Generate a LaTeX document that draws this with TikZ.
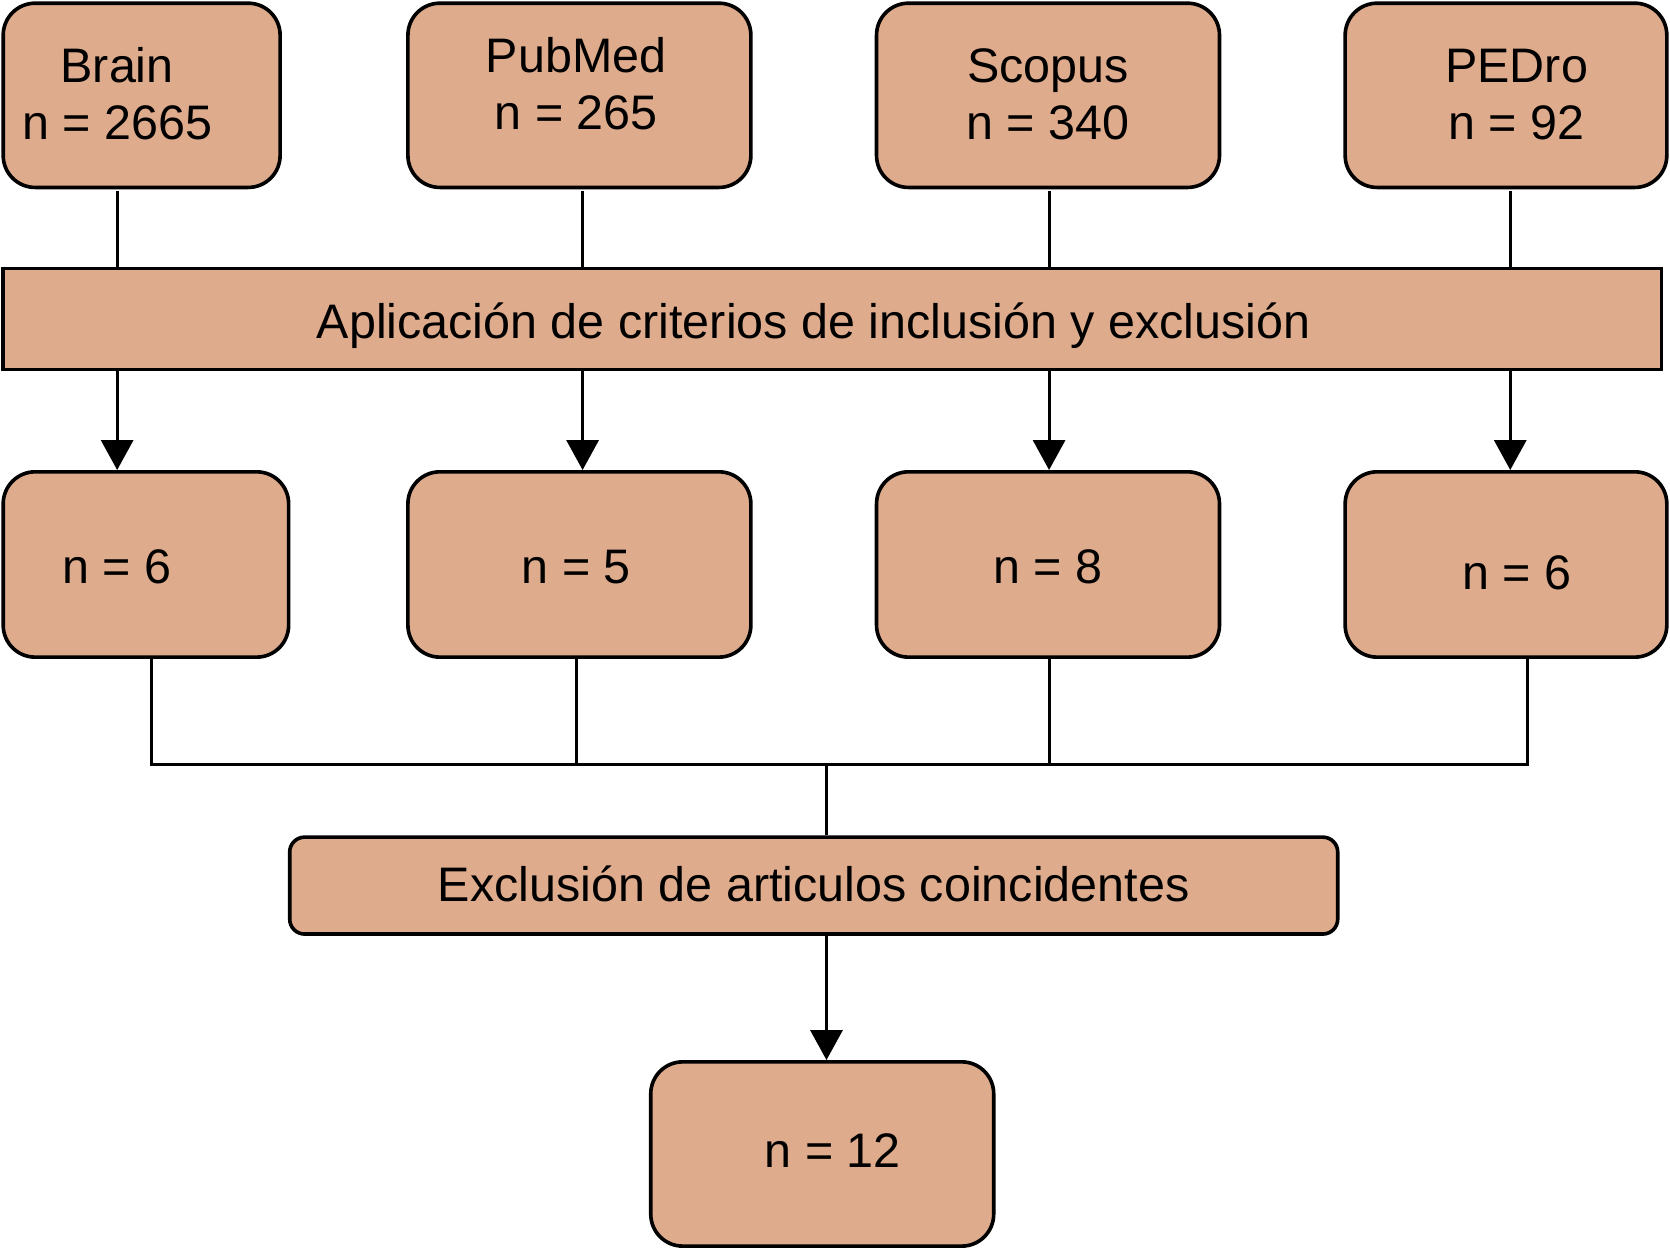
\documentclass[tikz,border=0pt]{standalone}
\usepackage{fontspec}
\setmainfont{Liberation Sans}
\usetikzlibrary{arrows.meta}
\definecolor{boxfill}{RGB}{222,171,141}
\begin{document}
\begin{tikzpicture}[x=1pt,y=-1pt,
  rbox/.style={draw=black,line width=3.4pt,fill=boxfill,rounded corners=30pt,inner sep=0pt},
  sbox/.style={draw=black,line width=3.4pt,fill=boxfill,inner sep=0pt},
  lbl/.style={anchor=base,inner sep=0pt,font=\fontsize{45.5}{54}\selectfont},
  conn/.style={line width=2.7pt},
  arr/.style={line width=2.7pt,-{Triangle[width=30pt,length=28pt]}}]
\useasboundingbox (0,0) rectangle (1568,1174);
% top boxes
\node[rbox,minimum width=260pt,minimum height=173pt] (top1) at (133,89.5) {};
\node[rbox,minimum width=322pt,minimum height=173pt] (top2) at (544,89.5) {};
\node[rbox,minimum width=322pt,minimum height=173pt] (top3) at (984,89.5) {};
\node[rbox,minimum width=302pt,minimum height=173pt] (top4) at (1414,89.5) {};
\node[lbl] (t1a) at (110,77) {Brain};
\node[lbl] (t1b) at (110,131) {n = 2665};
\node[lbl] (t2a) at (541,68) {PubMed};
\node[lbl] (t2b) at (541,122) {n = 265};
\node[lbl] (t3a) at (984,77) {Scopus};
\node[lbl] (t3b) at (984,131) {n = 340};
\node[lbl] (t4a) at (1424,77) {PEDro};
\node[lbl] (t4b) at (1424,131) {n = 92};
% bar
\node[sbox,minimum width=1557pt,minimum height=95pt] (bar) at (781.5,299.5) {};
\node[lbl] (tbar) at (764,318) {Aplicación de criterios de inclusión y exclusión};
% middle boxes
\node[rbox,minimum width=268pt,minimum height=174pt] (mid1) at (137,530) {};
\node[rbox,minimum width=322pt,minimum height=174pt] (mid2) at (544,530) {};
\node[rbox,minimum width=322pt,minimum height=174pt] (mid3) at (984,530) {};
\node[rbox,minimum width=302pt,minimum height=174pt] (mid4) at (1414,530) {};
\node[lbl] (m1) at (110,547.5) {n = 6};
\node[lbl] (m2) at (541,547.5) {n = 5};
\node[lbl] (m3) at (984,547.5) {n = 8};
\node[lbl] (m4) at (1424,553.5) {n = 6};
% exclusion box
\node[rbox,rounded corners=14pt,minimum width=984pt,minimum height=91pt] (excl) at (764,831.5) {};
\node[lbl] (texcl) at (764,846) {Exclusión de articulos coincidentes};
% final box
\node[rbox,minimum width=322pt,minimum height=173pt] (final) at (772,1083.5) {};
\node[lbl] (tfinal) at (782,1096) {n = 12};
% coordinates for connector columns
\coordinate (c1) at (110,0);
\coordinate (c2) at (547,0);
\coordinate (c3) at (985,0);
\coordinate (c4) at (1418,0);
\coordinate (d1) at (142,718);
\coordinate (d2) at (541,718);
\coordinate (d3) at (985,718);
\coordinate (d4) at (1434,718);
\coordinate (jm) at (776,718);
% top connectors
\foreach \i in {1,2,3,4}{
  \draw[conn,shorten <=2pt] (c\i |- top\i.south) -- (c\i |- bar.north);
  \draw[arr] (c\i |- bar.south) -- (c\i |- mid\i.north);
}
% merge
\draw[conn] (d1 |- mid1.south) -- (d1) -- (d4) -- (d4 |- mid4.south);
\draw[conn] (d2 |- mid2.south) -- (d2);
\draw[conn] (d3 |- mid3.south) -- (d3);
\draw[conn] (jm) -- (jm |- excl.north);
\draw[arr] (jm |- excl.south) -- (jm |- final.north);
\end{tikzpicture}
\end{document}
